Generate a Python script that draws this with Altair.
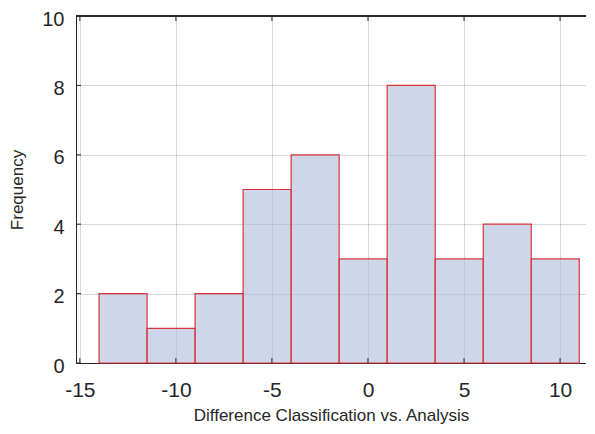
import altair as alt
import pandas as pd

bin_start = [-14.0, -11.5, -9.0, -6.5, -4.0, -1.5, 1.0, 3.5, 6.0, 8.5]
bin_end = [-11.5, -9.0, -6.5, -4.0, -1.5, 1.0, 3.5, 6.0, 8.5, 11.0]
counts = [2, 1, 2, 5, 6, 3, 8, 3, 4, 3]
x_ticks = [-15, -10, -5, 0, 5, 10]
y_ticks = [0, 2, 4, 6, 8, 10]

df = pd.DataFrame({"start": bin_start, "end": bin_end, "count": counts})
xt = pd.DataFrame({"t": x_ticks})
yt = pd.DataFrame({"t": y_ticks})

FONT = "Liberation Sans"
AX = "#262626"

xscale = alt.Scale(domain=[-15.2, 11.35], nice=False, zero=False)
yscale = alt.Scale(domain=[0, 10], nice=False)

bars = alt.Chart(df).mark_bar(
    fill="#AFBBDC", fillOpacity=0.6, stroke="#D9343C", strokeWidth=1.2
).encode(
    x=alt.X("start:Q", scale=xscale,
            axis=alt.Axis(values=x_ticks, title="Difference Classification vs. Analysis",
                          labelExpr="toString(datum.value)",
                          grid=True, gridColor=AX, gridOpacity=0.18,
                          tickSize=0, labelPadding=16, labelFontSize=21,
                          labelColor=AX, labelFont=FONT,
                          titleFont=FONT, titleFontSize=17, titleFontWeight="normal",
                          titleColor=AX, titlePadding=7,
                          domainColor=AX, labelFlush=False)),
    x2="end:Q",
    y=alt.Y("count:Q", scale=yscale,
            axis=alt.Axis(values=y_ticks, title="Frequency",
                          grid=True, gridColor=AX, gridOpacity=0.18,
                          tickSize=0, labelPadding=12, labelFontSize=20,
                          labelColor=AX, labelFont=FONT, labelOffset=3,
                          titleFont=FONT, titleFontSize=17, titleFontWeight="normal",
                          titleColor=AX, titlePadding=15,
                          domainColor=AX, labelFlush=False)),
    y2=alt.datum(0),
)

xtick_bot = alt.Chart(xt).mark_rule(color=AX, strokeWidth=1).encode(
    x=alt.X("t:Q", scale=xscale), y=alt.value(347), y2=alt.value(342))
xtick_top = alt.Chart(xt).mark_rule(color=AX, strokeWidth=1).encode(
    x=alt.X("t:Q", scale=xscale), y=alt.value(0), y2=alt.value(5))
ytick_left = alt.Chart(yt).mark_rule(color=AX, strokeWidth=1).encode(
    y=alt.Y("t:Q", scale=yscale), x=alt.value(0), x2=alt.value(5))
top_line = alt.Chart(xt).mark_rule(color=AX, strokeWidth=1).encode(
    x=alt.value(0), x2=alt.value(510), y=alt.value(0))

chart = alt.layer(bars, xtick_bot, xtick_top, ytick_left, top_line).properties(
    width=510, height=347,
    autosize=alt.AutoSizeParams(type="none"),
    padding={"left": 68, "top": 8, "right": 0, "bottom": 63},
).configure_view(strokeWidth=0).configure(background="white")

chart.save("out.html", embed_options={"renderer": "svg", "actions": False})
